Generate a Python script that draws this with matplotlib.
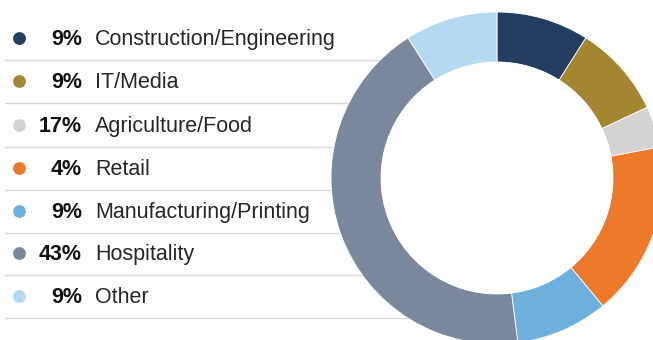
import matplotlib.pyplot as plt
from matplotlib.patches import Circle

# sector shares shown in the ring (clockwise from 12 o'clock)
sectors = ['Construction/Engineering', 'IT/Media', 'Agriculture/Food', 'Retail',
           'Manufacturing/Printing', 'Hospitality', 'Other']
ring_share = [9, 9, 4, 17, 9, 43, 9]
# percentages printed in the legend list
legend_pct = ['9%', '9%', '17%', '4%', '9%', '43%', '9%']
colors = ['#243d61', '#a3862f', '#d4d3d1', '#ec7a2a', '#6db0de', '#7a879d', '#b5d9f0']

W, H = 653, 340
fig = plt.figure(figsize=(W / 100, H / 100), dpi=100)
ax = fig.add_axes([0, 0, 1, 1])

# donut, partly running off the right and bottom edges
cx, cy, r_out, ring_w = 497, H - 178, 166, 50
ax.pie(ring_share, colors=colors, startangle=90, counterclock=False,
       center=(cx, cy), radius=r_out,
       wedgeprops=dict(width=ring_w, edgecolor='white', linewidth=0.6))
# fill the hole so the row rules don't show through
ax.add_patch(Circle((cx, cy), r_out - ring_w, facecolor='white', edgecolor='none', zorder=2))

row_y = [38, 81, 125, 168, 211, 253, 296]
for i in range(len(sectors)):
    y = H - row_y[i]
    ax.scatter(19, y, s=85, color=colors[i], zorder=3, linewidths=0)
    ax.text(82, y - 1.5, legend_pct[i], ha='right', va='center', fontsize=15.5,
            fontweight='bold', color='#111111', family='Liberation Sans')
    ax.text(95, y - 1.5, sectors[i], ha='left', va='center', fontsize=15.5,
            color='#262626', family='Liberation Sans')
    # separator under each row, tucked behind the ring
    ax.plot([5, 460], [y - 21.5, y - 21.5], color='#d9d9d9', lw=1, zorder=0)

ax.set_xlim(0, W)
ax.set_ylim(0, H)
ax.set_aspect('equal')
ax.axis('off')

plt.savefig('out.png', dpi=100)
